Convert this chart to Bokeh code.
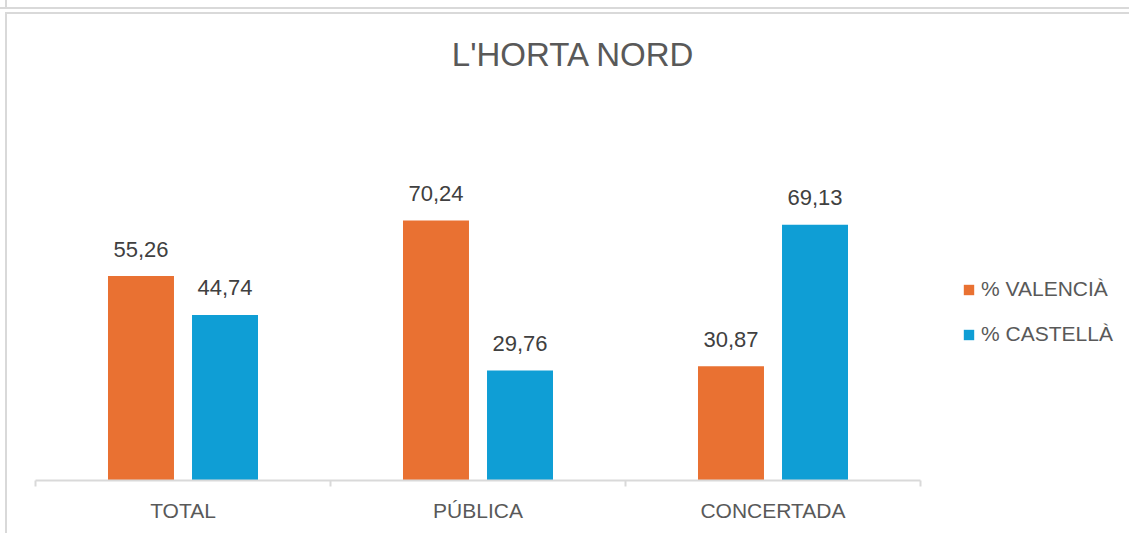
from bokeh.plotting import figure
from bokeh.models import ColumnDataSource, FixedTicker, Legend, LegendItem, Range1d, Label
from bokeh.embed import file_html
from bokeh.resources import INLINE
from bokeh.core.properties import value
import numpy as np

# ---- data ----
title_text = "L'HORTA NORD"
categories = ["TOTAL", "PÚBLICA", "CONCERTADA"]
valencia = [55.26, 70.24, 30.87]
castella = [44.74, 29.76, 69.13]
series_names = ["% VALENCIÀ", "% CASTELLÀ"]
colors = ["#E97132", "#0F9ED5"]

# ---- layout ----
W, H = 1129, 533
FL, FB = 35, 480          # frame left / axis line (pixels)
CAT_PX = 295.0            # pixels per category
PX_PER_UNIT = 3.70        # pixels per percentage point
FONT = "Liberation Sans"
GREY = "#595959"
LINE = "#d9d9d9"

ncat = len(categories)
p = figure(width=W, height=H, output_backend="svg", toolbar_location=None,
           title=None,
           x_range=Range1d(0, (W - FL) / CAT_PX),
           y_range=Range1d(0, FB / PX_PER_UNIT),
           y_axis_location=None,
           min_border_left=FL, min_border_right=0,
           min_border_top=0, min_border_bottom=H - FB)
p.outline_line_color = None
p.grid.visible = False
p.background_fill_alpha = 0
p.border_fill_alpha = 0

# chart frame lines (CSS behind the transparent canvas)
g = f"linear-gradient({LINE},{LINE})"
p.styles = {
    "background-color": "white",
    "background-image": ", ".join([g] * 4),
    "background-size": "100% 2px, 100% 2px, 2px 100%, 2px 9px",
    "background-position": "0px 7px, 5px 12px, 5px 12px, 5px 0px",
    "background-repeat": "no-repeat",
}

idx = np.arange(ncat) + 0.5
BW = 0.2237
OFF = 0.1424

def fmt(v):
    return f"{v:.2f}".replace(".", ",")

src = ColumnDataSource(dict(
    xv=idx - OFF, xc=idx + OFF, v=valencia, c=castella,
    lv=[fmt(x) for x in valencia], lc=[fmt(x) for x in castella]))

r1 = p.vbar(x="xv", top="v", bottom=0, width=BW, source=src,
            fill_color=colors[0], line_color=None)
r2 = p.vbar(x="xc", top="c", bottom=0, width=BW, source=src,
            fill_color=colors[1], line_color=None)

for xcol, ycol, tcol in (("xv", "v", "lv"), ("xc", "c", "lc")):
    p.text(x=xcol, y=ycol, text=tcol, source=src, text_align="center",
           text_baseline="alphabetic", y_offset=-27,
           text_font=value(FONT), text_font_size="22px", text_color="#404040")

ax = p.xaxis[0]
ax.bounds = (0, ncat)
ax.ticker = FixedTicker(ticks=list(idx), minor_ticks=list(range(ncat + 1)))
ax.major_label_overrides = {float(t): c for t, c in zip(idx, categories)}
ax.major_tick_line_color = None
ax.major_tick_in = 0
ax.major_tick_out = 0
ax.minor_tick_in = 0
ax.minor_tick_out = 6
ax.minor_tick_line_color = LINE
ax.minor_tick_line_width = 2
ax.axis_line_color = LINE
ax.axis_line_width = 2
ax.major_label_standoff = 12
ax.major_label_text_font = FONT
ax.major_label_text_font_size = "21px"
ax.major_label_text_color = GREY

legend = Legend(items=[LegendItem(label=series_names[0], renderers=[r1]),
                       LegendItem(label=series_names[1], renderers=[r2])],
                location=(927, 134), orientation="vertical",
                padding=0, margin=0, spacing=21,
                glyph_width=13, glyph_height=13, label_height=20,
                label_standoff=6, label_text_font=FONT,
                label_text_font_size="21px", label_text_color=GREY,
                border_line_color=None, background_fill_alpha=0)
p.add_layout(legend)

p.add_layout(Label(x=573 - FL, y=FB - 54, x_units="screen", y_units="screen",
                   text=title_text, text_align="center", text_baseline="alphabetic",
                   text_font=FONT, text_font_size="33px", text_color=GREY))

open("out.html", "w").write(file_html(p, INLINE))
